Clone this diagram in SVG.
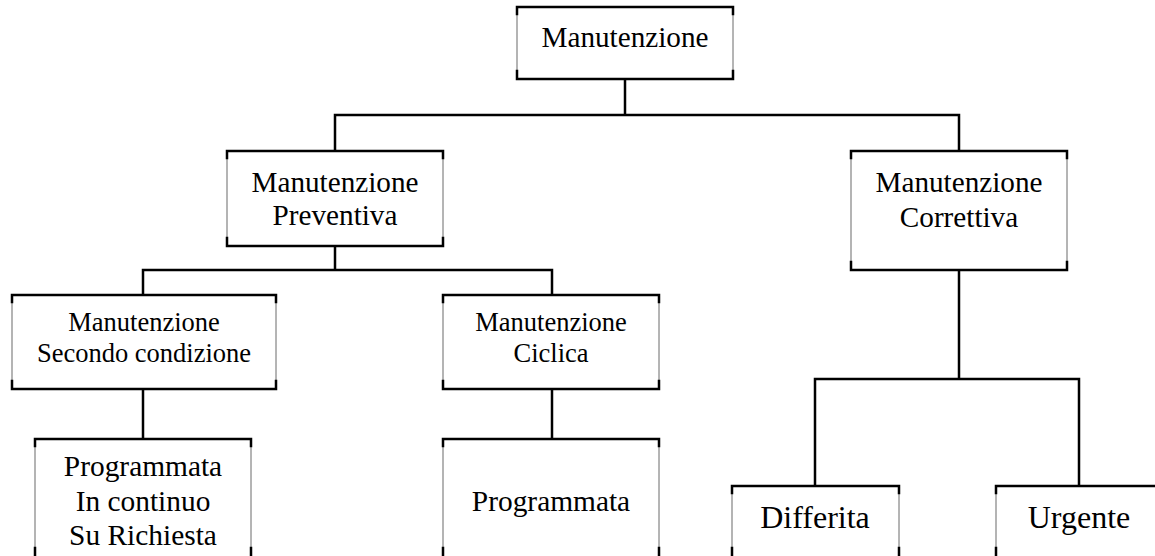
<svg xmlns="http://www.w3.org/2000/svg" width="1155" height="556" viewBox="0 0 1155 556">
  <style>
    .side { fill: #ffffff; stroke: #6a6a6a; stroke-width: 1; }
    .edge { fill: none; stroke: #000000; stroke-width: 2.5; stroke-linejoin: miter; stroke-linecap: square; }
    .link { fill: none; stroke: #000000; stroke-width: 2.5; }
    .lbl { font-family: 'Liberation Serif', 'DejaVu Serif', serif; fill: #000000; text-anchor: middle; }
    .t29 { font-size: 29.2px; }
    .t26 { font-size: 26.5px; }
    .t29b { font-size: 29.4px; }
    .t32 { font-size: 32px; }
  </style>
  <rect width="1155" height="556" fill="#ffffff"/>

  <!-- connectors -->
  <g id="connectors">
    <path class="link" d="M625,79 V115"/>
    <path class="link" d="M335,151 V115 H959 V151"/>
    <path class="link" d="M335,246 V270"/>
    <path class="link" d="M143,295 V270 H552 V295"/>
    <path class="link" d="M143,389 V439"/>
    <path class="link" d="M552,389 V439"/>
    <path class="link" d="M959,270 V379"/>
    <path class="link" d="M815,486 V379 H1079 V486"/>
  </g>

  <!-- root -->
  <g id="manutenzione">
    <rect class="side" x="517" y="7" width="216" height="72"/>
    <path class="edge" d="M517,14 V7 H733 V14 M517,71 V79 H733 V71"/>
    <text class="lbl t29" x="625" y="47">Manutenzione</text>
  </g>

  <!-- level 1 -->
  <g id="preventiva">
    <rect class="side" x="227" y="151" width="216" height="95"/>
    <path class="edge" d="M227,158 V151 H443 V158 M227,238 V246 H443 V238"/>
    <text class="lbl t29" x="335" y="192">Manutenzione</text>
    <text class="lbl t29" x="335" y="225">Preventiva</text>
  </g>

  <g id="correttiva">
    <rect class="side" x="851" y="151" width="216" height="119"/>
    <path class="edge" d="M851,158 V151 H1067 V158 M851,262 V270 H1067 V262"/>
    <text class="lbl t29" x="959" y="192">Manutenzione</text>
    <text class="lbl t29" x="959" y="227">Correttiva</text>
  </g>

  <!-- level 2 -->
  <g id="secondo-condizione">
    <rect class="side" x="12" y="295" width="264" height="94"/>
    <path class="edge" d="M12,302 V295 H276 V302 M12,381 V389 H276 V381"/>
    <text class="lbl t26" x="144" y="331">Manutenzione</text>
    <text class="lbl t26" x="144" y="362">Secondo condizione</text>
  </g>

  <g id="ciclica">
    <rect class="side" x="443" y="295" width="216" height="94"/>
    <path class="edge" d="M443,302 V295 H659 V302 M443,381 V389 H659 V381"/>
    <text class="lbl t26" x="551" y="331">Manutenzione</text>
    <text class="lbl t26" x="551" y="362">Ciclica</text>
  </g>

  <!-- level 3 -->
  <g id="programmata-multipla">
    <rect class="side" x="35" y="439" width="216" height="130"/>
    <path class="edge" d="M35,446 V439 H251 V446 M35,548 V556 M251,548 V556"/>
    <text class="lbl t29b" x="143" y="476">Programmata</text>
    <text class="lbl t29b" x="143" y="511">In continuo</text>
    <text class="lbl t29b" x="143" y="545">Su Richiesta</text>
  </g>

  <g id="programmata">
    <rect class="side" x="443" y="439" width="216" height="130"/>
    <path class="edge" d="M443,446 V439 H659 V446 M443,548 V556 M659,548 V556"/>
    <text class="lbl t29b" x="551" y="511">Programmata</text>
  </g>

  <g id="differita">
    <rect class="side" x="732" y="486" width="167" height="90"/>
    <path class="edge" d="M732,493 V486 H899 V493 M732,548 V556 M899,548 V556"/>
    <text class="lbl t32" x="815" y="528">Differita</text>
  </g>

  <g id="urgente">
    <rect class="side" x="996" y="486" width="166" height="90"/>
    <path class="edge" d="M996,493 V486 H1162 M996,548 V556"/>
    <text class="lbl t32" x="1079" y="528">Urgente</text>
  </g>
</svg>
